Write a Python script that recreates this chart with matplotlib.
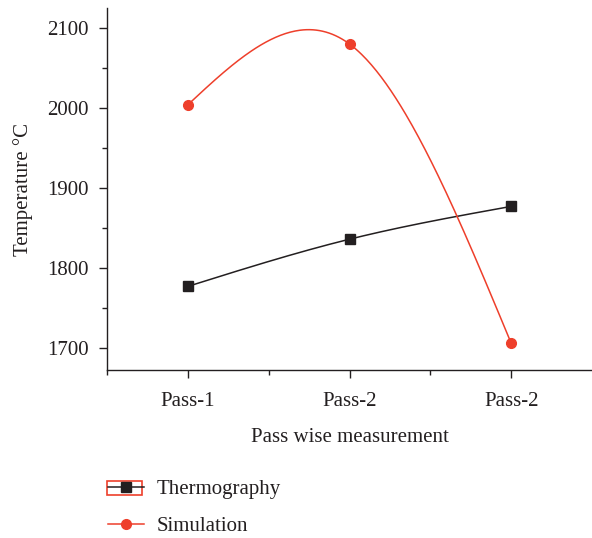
import numpy as np
import matplotlib.pyplot as plt
from matplotlib.patches import Rectangle

# data
passes = ['Pass-1', 'Pass-2', 'Pass-2']
thermography = [1777, 1836, 1877]
simulation = [2004, 2080, 1706]

RED = '#ee3f2b'
BLACK = '#231f20'


def natural_spline(x, y, n=200):
    # natural cubic spline through the points (what the original smooth line looks like)
    x = np.asarray(x, float)
    y = np.asarray(y, float)
    k = len(x)
    h = np.diff(x)
    A = np.zeros((k, k))
    b = np.zeros(k)
    A[0, 0] = A[-1, -1] = 1
    for i in range(1, k - 1):
        A[i, i - 1] = h[i - 1]
        A[i, i] = 2 * (h[i - 1] + h[i])
        A[i, i + 1] = h[i]
        b[i] = 6 * ((y[i + 1] - y[i]) / h[i] - (y[i] - y[i - 1]) / h[i - 1])
    M = np.linalg.solve(A, b)
    xs = np.linspace(x[0], x[-1], n)
    idx = np.clip(np.searchsorted(x, xs) - 1, 0, k - 2)
    x0, x1 = x[idx], x[idx + 1]
    hh = x1 - x0
    a = (x1 - xs) / hh
    c = (xs - x0) / hh
    ys = (a * y[idx] + c * y[idx + 1]
          + ((a ** 3 - a) * M[idx] + (c ** 3 - c) * M[idx + 1]) * hh ** 2 / 6)
    return xs, ys


plt.rcParams['font.family'] = ['Liberation Serif', 'DejaVu Serif']
plt.rcParams['text.color'] = BLACK
plt.rcParams['axes.labelcolor'] = BLACK
plt.rcParams['xtick.color'] = BLACK
plt.rcParams['ytick.color'] = BLACK

fig = plt.figure(figsize=(5.92, 5.38), dpi=100)
ax = fig.add_axes([107 / 592, 1 - 370 / 538, 485 / 592, 362 / 538])

x = np.arange(1, len(passes) + 1)

xs, ys = natural_spline(x, thermography)
ax.plot(xs, ys, color=BLACK, lw=1.1)
ax.plot(x, thermography, ls='none', marker='s', ms=6.5, color=BLACK)

xs, ys = natural_spline(x, simulation)
ax.plot(xs, ys, color=RED, lw=1.1)
ax.plot(x, simulation, ls='none', marker='o', ms=7, color=RED)

ax.set_xlim(0.5, 3.5)
ax.set_ylim(1672.5, 2125)
ax.set_xticks(x)
ax.set_xticklabels(passes)
ax.set_xticks([0.5, 1.5, 2.5], minor=True)
ax.set_yticks([1700, 1800, 1900, 2000, 2100])
ax.set_yticks([1750, 1850, 1950, 2050], minor=True)
ax.tick_params(which='major', length=6, width=1, labelsize=15)
ax.tick_params(axis='x', which='major', pad=10)
ax.tick_params(axis='y', which='major', pad=7)
ax.tick_params(which='minor', length=3.5, width=1)
for s in ['top', 'right']:
    ax.spines[s].set_visible(False)
for s in ['left', 'bottom']:
    ax.spines[s].set_linewidth(1)
    ax.spines[s].set_color(BLACK)

ax.set_xlabel('Pass wise measurement', fontsize=15, labelpad=12)
ax.set_ylabel('Temperature °C', fontsize=15, labelpad=10)

# legend under the plot
h1, = ax.plot([], [], color=BLACK, lw=1.1, marker='s', ms=6.5)
h2, = ax.plot([], [], color=RED, lw=1.1, marker='o', ms=7)
fig.legend([h1, h2], ['Thermography', 'Simulation'], loc='upper left',
           bbox_to_anchor=(98 / 592, 1 - 469 / 538), frameon=False,
           fontsize=15, handlelength=1.7, handletextpad=0.6, labelspacing=0.85,
           borderpad=0)
fig.patches.append(Rectangle((107 / 592, 1 - 495 / 538), 35 / 592, 14 / 538,
                             transform=fig.transFigure, fill=False,
                             edgecolor=RED, lw=1.2))

fig.savefig('out.png', dpi=100)
